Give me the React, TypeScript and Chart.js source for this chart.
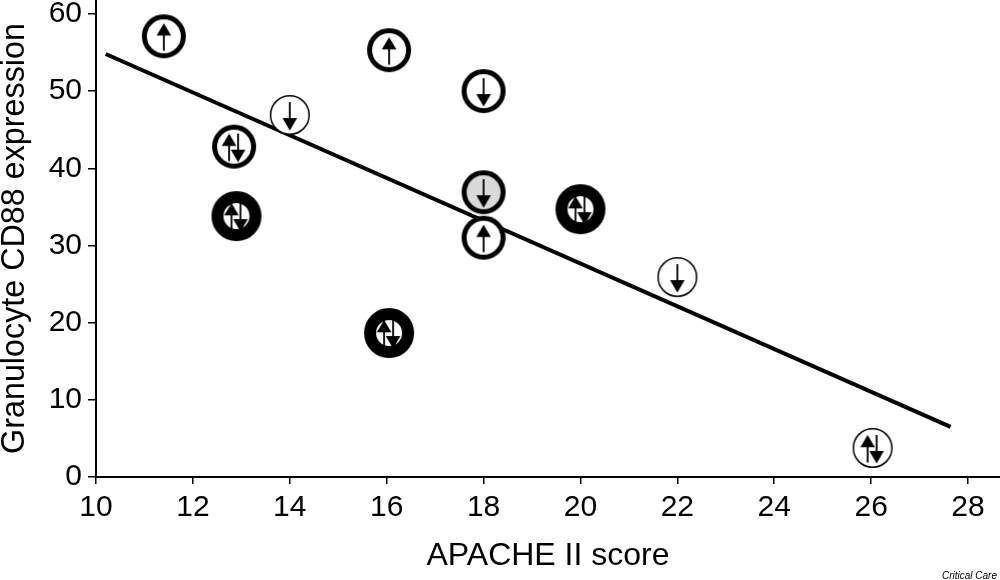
import React, { useEffect, useRef } from "react";
import { Chart, registerables } from "chart.js";

Chart.register(...registerables);

const xTicks = [10, 12, 14, 16, 18, 20, 22, 24, 26, 28];
const yTicks = [0, 10, 20, 30, 40, 50, 60];
const apacheScores = [11.4, 16.05, 18, 14, 12.85, 12.9, 18, 18, 20, 16.05, 22, 26.03];
const cd88Values = [57.1, 55.3, 50, 46.9, 42.8, 33.8, 36.9, 31, 34.7, 18.65, 25.9, 3.76];
const ringKinds = ["thick", "thick", "thick", "thin", "thick", "heavy", "grey", "thick", "heavy", "heavy", "thin", "thin"];
const arrowKinds = ["up", "up", "down", "down", "both", "both", "down", "up", "both", "both", "down", "both"];
const trendX = [10.2, 27.64];
const trendY = [54.8, 6.5];

const FONT = "'Liberation Sans', Arial, sans-serif";

function arrow(ctx: CanvasRenderingContext2D, x: number, dir: "up" | "down", c: number, shaftW: number) {
  ctx.fillStyle = "#000";
  ctx.strokeStyle = "#000";
  ctx.lineWidth = shaftW;
  ctx.beginPath();
  if (dir === "up") {
    ctx.moveTo(c + x, c - 4);
    ctx.lineTo(c + x, c + 14.5);
    ctx.stroke();
    ctx.beginPath();
    ctx.moveTo(c + x, c - 13);
    ctx.lineTo(c + x - 7.3, c - 0.8);
    ctx.lineTo(c + x + 7.3, c - 0.8);
  } else {
    ctx.moveTo(c + x, c - 13);
    ctx.lineTo(c + x, c + 5);
    ctx.stroke();
    ctx.beginPath();
    ctx.moveTo(c + x, c + 15.5);
    ctx.lineTo(c + x - 7.3, c + 3);
    ctx.lineTo(c + x + 7.3, c + 3);
  }
  ctx.closePath();
  ctx.fill();
}

function makeMarker(ring: string, arrows: string): HTMLCanvasElement {
  const size = 54;
  const c = size / 2;
  const cv = document.createElement("canvas");
  cv.width = size;
  cv.height = size;
  const ctx = cv.getContext("2d")!;
  const spec =
    ring === "thin"
      ? { r: 19.3, w: 1.5, fill: "#fff" }
      : ring === "heavy"
      ? { r: 19, w: 12, fill: "#fff" }
      : ring === "grey"
      ? { r: 19.5, w: 5, fill: "#d9d9d9" }
      : { r: 19.5, w: 5, fill: "#fff" };
  ctx.beginPath();
  ctx.arc(c, c, spec.r, 0, Math.PI * 2);
  ctx.fillStyle = spec.fill;
  ctx.fill();
  if (arrows === "both") {
    arrow(ctx, -5, "up", c, 1.8);
    arrow(ctx, 4, "down", c, 1.8);
  } else {
    arrow(ctx, 0, arrows as "up" | "down", c, 1.8);
  }
  ctx.beginPath();
  ctx.arc(c, c, spec.r, 0, Math.PI * 2);
  ctx.strokeStyle = "#000";
  ctx.lineWidth = spec.w;
  ctx.stroke();
  return cv;
}

const creditPlugin = {
  id: "credit",
  afterDraw(chart: any) {
    const ctx = chart.ctx;
    ctx.save();
    ctx.font = `italic 10px ${FONT}`;
    ctx.fillStyle = "#000";
    ctx.textAlign = "right";
    ctx.textBaseline = "alphabetic";
    ctx.fillText("Critical Care", 997, 579);
    ctx.restore();
  },
};

const noPadding = (a: any) => {
  a.paddingLeft = 0;
  a.paddingRight = 0;
  a.paddingTop = 0;
  a.paddingBottom = 0;
};

export default function App() {
  const ref = useRef<HTMLCanvasElement>(null);
  useEffect(() => {
    const markers = ringKinds.map((r, i) => makeMarker(r, arrowKinds[i]));
    const chart = new Chart(ref.current!, {
      type: "scatter",
      data: {
        datasets: [
          {
            label: "Patients",
            data: apacheScores.map((x, i) => ({ x, y: cd88Values[i] })),
            pointStyle: markers as any,
            pointRadius: 25,
            order: 1,
            clip: false as any,
          },
          {
            label: "Trend",
            data: trendX.map((x, i) => ({ x, y: trendY[i] })),
            showLine: true,
            borderColor: "#000",
            borderWidth: 4,
            pointRadius: 0,
            order: 2,
          },
        ],
      },
      options: {
        animation: false,
        responsive: false,
        events: [],
        layout: { padding: 0, autoPadding: false },
        plugins: { legend: { display: false }, tooltip: { enabled: false } },
        scales: {
          x: {
            type: "linear",
            min: 10,
            max: 28.66,
            afterBuildTicks: (a: any) => {
              a.ticks = xTicks.map((value) => ({ value }));
            },
            afterFit: (a: any) => {
              a.height = 103;
              noPadding(a);
            },
            border: { color: "#000", width: 2 },
            grid: { drawOnChartArea: false, color: "#000", lineWidth: 1.5, tickLength: 7 },
            ticks: {
              color: "#000",
              font: { family: FONT, size: 30 },
              padding: 6,
              maxRotation: 0,
              autoSkip: false,
            },
            title: {
              display: true,
              text: "APACHE II score",
              color: "#000",
              font: { family: FONT, size: 32 },
              padding: { top: 0, bottom: 5 },
            },
          },
          y: {
            type: "linear",
            min: 0,
            max: 61.8,
            afterBuildTicks: (a: any) => {
              a.ticks = yTicks.map((value) => ({ value }));
            },
            afterFit: (a: any) => {
              a.width = 96;
              noPadding(a);
            },
            border: { color: "#000", width: 2 },
            grid: { drawOnChartArea: false, color: "#000", lineWidth: 1.5, tickLength: 8 },
            ticks: {
              color: "#000",
              font: { family: FONT, size: 30 },
              padding: 6,
              autoSkip: false,
            },
            title: {
              display: true,
              text: "Granulocyte CD88 expression",
              color: "#000",
              font: { family: FONT, size: 32.3 },
              padding: { top: -4, bottom: 0 },
            },
          },
        },
      },
      plugins: [creditPlugin],
    });
    return () => chart.destroy();
  }, []);
  return (
    <canvas
      ref={ref}
      width={1000}
      height={580}
      style={{ position: "absolute", left: 0, top: 0, width: 1000, height: 580, background: "#fff" }}
    />
  );
}
